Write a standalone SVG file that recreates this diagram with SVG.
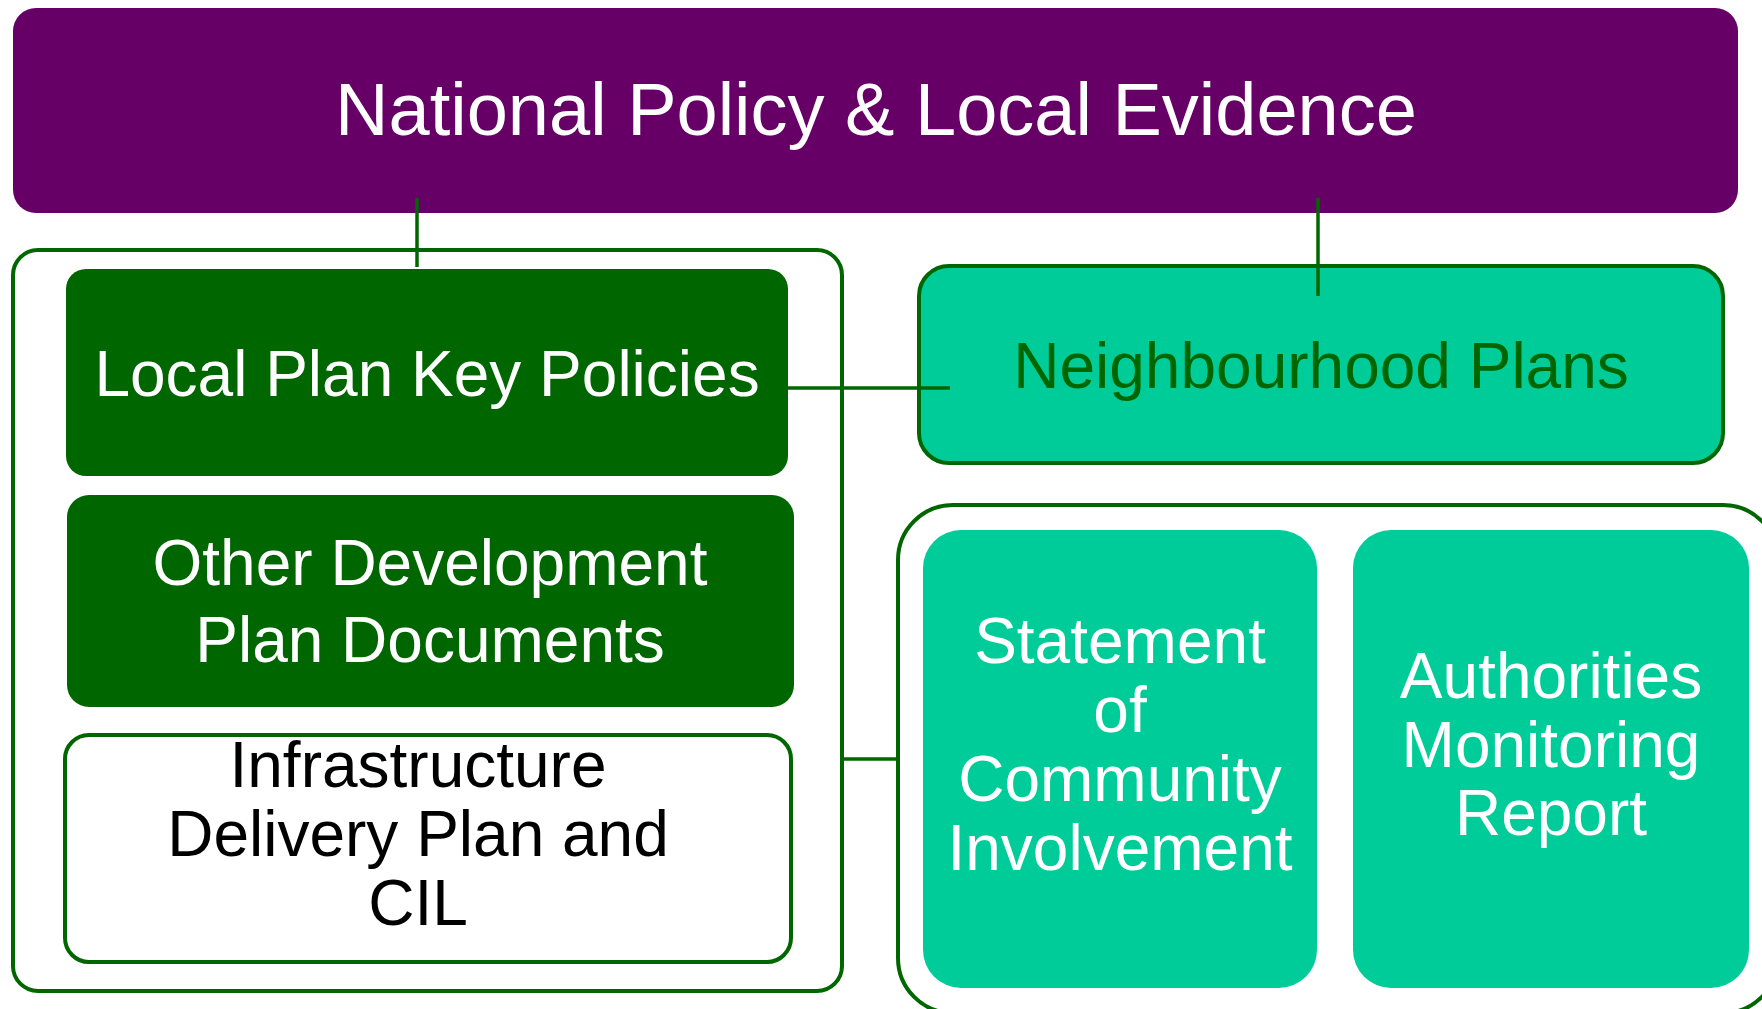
<svg xmlns="http://www.w3.org/2000/svg" width="1762" height="1009" viewBox="0 0 1762 1009">
<style>
text{font-family:"Liberation Sans",Arial,sans-serif;font-size:64px;text-anchor:middle}
.w{fill:#ffffff}
.g{fill:#006600}
.k{fill:#000000}
.frame{fill:#ffffff;stroke:#006600;stroke-width:4}
.dark{fill:#006600}
.teal{fill:#00CC99}
.conn{stroke:#006600;stroke-width:3.5;fill:none}
</style>
<rect width="1762" height="1009" fill="#ffffff"/>
<g id="national">
<rect x="13" y="8" width="1725" height="205" rx="23" fill="#660066"/>
<text class="w" x="876" y="135" style="font-size:74px">National Policy &amp; Local Evidence</text>
</g>
<g id="left-group">
<rect class="frame" x="13" y="250" width="829" height="741" rx="25"/>
</g>
<g id="right-group">
<rect class="frame" x="898" y="505" width="880" height="508" rx="55"/>
</g>
<g id="local-plan">
<rect class="dark" x="66" y="269" width="722" height="207" rx="20"/>
<text class="w" x="427" y="396">Local Plan Key Policies</text>
</g>
<g id="other-dpd">
<rect class="dark" x="67" y="495" width="727" height="212" rx="22"/>
<text class="w" x="430" y="585">Other Development</text>
<text class="w" x="430" y="662">Plan Documents</text>
</g>
<g id="infrastructure">
<rect class="frame" x="65" y="735" width="726" height="227" rx="24"/>
<text class="k" x="418" y="787">Infrastructure</text>
<text class="k" x="418" y="856">Delivery Plan and</text>
<text class="k" x="418" y="925">CIL</text>
</g>
<g id="neighbourhood">
<rect class="teal" x="919" y="266" width="804" height="197" rx="30" stroke="#006600" stroke-width="4"/>
<text class="g" x="1321" y="388">Neighbourhood Plans</text>
</g>
<g id="sci">
<rect class="teal" x="923" y="530" width="394" height="458" rx="38"/>
<text class="w" x="1120" y="663">Statement</text>
<text class="w" x="1120" y="732">of</text>
<text class="w" x="1120" y="801">Community</text>
<text class="w" x="1120" y="870">Involvement</text>
</g>
<g id="amr">
<rect class="teal" x="1353" y="530" width="396" height="458" rx="38"/>
<text class="w" x="1551" y="698">Authorities</text>
<text class="w" x="1551" y="767">Monitoring</text>
<text class="w" x="1551" y="835">Report</text>
</g>
<g id="connectors">
<line class="conn" x1="417" y1="198" x2="417" y2="267"/>
<line class="conn" x1="1318" y1="198" x2="1318" y2="296"/>
<line class="conn" x1="788" y1="388" x2="950" y2="388"/>
<line class="conn" x1="842" y1="759" x2="898" y2="759"/>
</g>
</svg>
